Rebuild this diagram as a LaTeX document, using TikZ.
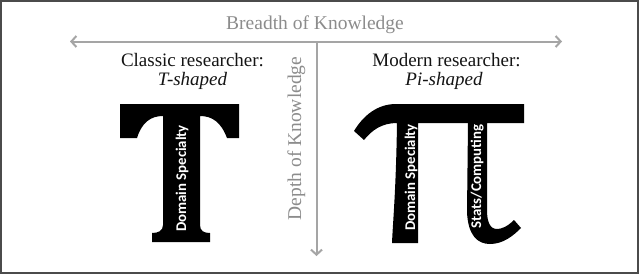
\documentclass[tikz,border=0pt]{standalone}
\usepackage{fontspec}
\setmainfont{Liberation Serif}
\newfontfamily\stemfont{Carlito}
\usetikzlibrary{arrows.meta}
\definecolor{axisgray}{RGB}{165,165,165}
\definecolor{axistext}{RGB}{140,140,140}
\definecolor{framegray}{RGB}{75,75,75}
\definecolor{inkblack}{RGB}{20,20,20}
\tikzset{
  axis/.style={draw=axisgray, line width=2bp, -{Straight Barb[length=5bp,width=11bp]}},
  axislabel/.style={text=axistext, font=\fontsize{19.5bp}{23bp}\selectfont, inner sep=0pt},
  heading/.style={text=inkblack, font=\fontsize{19bp}{22bp}\selectfont, inner sep=0pt, anchor=base},
  glyph/.style={fill=black, draw=none},
  stemlabel/.style={text=white, font=\stemfont\bfseries\fontsize{14.8bp}{16bp}\selectfont,
    inner sep=0pt, rotate=90, anchor=base}
}
\begin{document}
\begin{tikzpicture}[x=1bp, y=-1bp]
\useasboundingbox (0,0) rectangle (640,275);
\fill[white] (0,0) rectangle (640,275);
\draw[framegray, line width=2bp] (1,1) rectangle (638,273);

% axes
\coordinate (hl) at (70,41.5);
\coordinate (hr) at (562,41.5);
\coordinate (vt) at (316.5,41.5);
\coordinate (vb) at (316.5,256);
\draw[axis, {Straight Barb[length=5bp,width=11bp]}-{Straight Barb[length=5bp,width=11bp]}] (hl) -- (hr);
\draw[axis] (vt) -- (vb);
\node[axislabel, anchor=base] (breadth) at (315,29) {Breadth of Knowledge};
\node[axislabel, anchor=base, rotate=90] (depth) at (301,138.5) {Depth of Knowledge};

% headings
\node[heading] (classic) at (192.5,66) {Classic researcher:};
\node[heading] (tshape) at (192.5,85) {\itshape T-shaped};
\node[heading] (modern) at (446.5,66) {Modern researcher:};
\node[heading] (pishape) at (444,85) {\itshape Pi-shaped};

% T glyph
\fill[glyph] (120,104) -- (239,104) -- (239,138) -- (227,138)
  .. controls (221,122) and (212,116) .. (200,116)
  -- (200,225) .. controls (200,231) and (204,233) .. (210,233)
  -- (210,242) -- (152,242) -- (152,233)
  .. controls (158,233) and (163,231) .. (163,225)
  -- (163,116) .. controls (151,116) and (142,122) .. (137,138)
  -- (120,138) -- cycle;
\node[stemlabel] (tdomain) at (186,178.5) {Domain Specialty};

% Pi glyph
\fill[glyph] (524,104) -- (396,104)
  .. controls (377,104) and (363,116) .. (354,131)
  -- (364,140)
  .. controls (372,130) and (382,123) .. (397,123)
  .. controls (396,190) and (393,220) .. (392,243)
  -- (418,243) -- (418,123) -- (468,123)
  -- (467,212) .. controls (468,236) and (478,244) .. (490,244)
  .. controls (503,244) and (513,236) .. (521,228)
  -- (514,220) .. controls (507,227) and (501,229) .. (497,229)
  .. controls (490,229) and (487,222) .. (487,210)
  -- (487,123) -- (524,123) -- cycle;
\node[stemlabel] (pidomain) at (415,177.5) {Domain Specialty};
\node[stemlabel] (pistats) at (481,176.5) {Stats/Computing};
\end{tikzpicture}
\end{document}
